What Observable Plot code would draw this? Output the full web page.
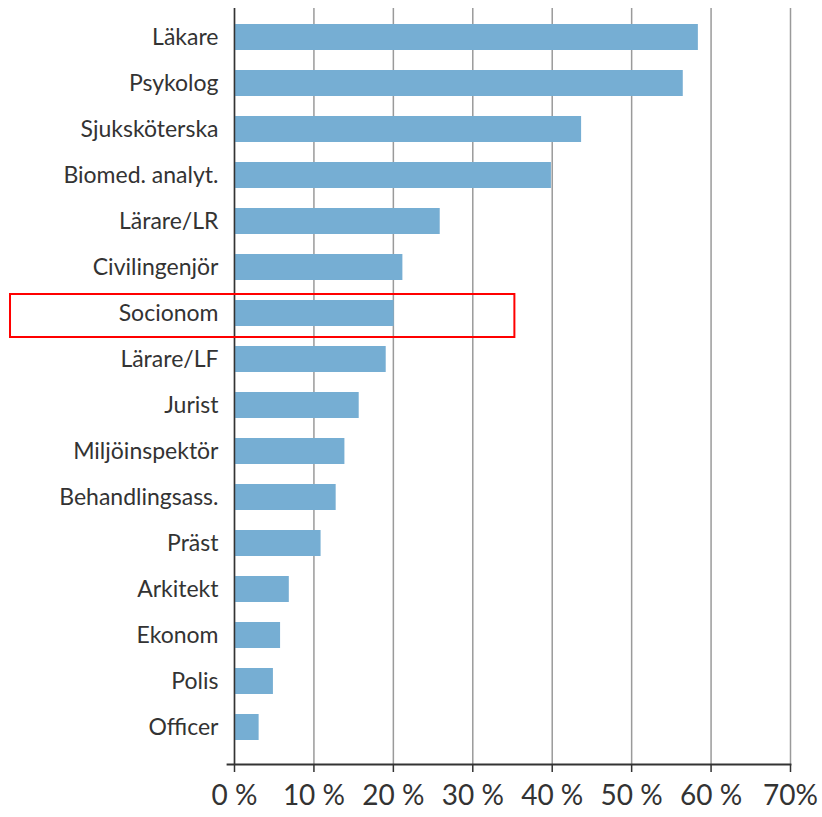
<!DOCTYPE html>
<html>
<head>
<meta charset="utf-8">
<script src="https://cdn.jsdelivr.net/npm/d3@7"></script>
<script src="https://cdn.jsdelivr.net/npm/@observablehq/plot@0.6"></script>
<style>
  html, body { margin: 0; padding: 0; background: #fff; }
  #chart svg { display: block; }
</style>
</head>
<body>
<div id="chart"></div>
<script>
const categories = ["Läkare", "Psykolog", "Sjuksköterska", "Biomed. analyt.", "Lärare/LR", "Civilingenjör", "Socionom", "Lärare/LF", "Jurist", "Miljöinspektör", "Behandlingsass.", "Präst", "Arkitekt", "Ekonom", "Polis", "Officer"];
const values = [58.4, 56.5, 43.7, 39.9, 25.9, 21.2, 20.1, 19.1, 15.7, 13.9, 12.8, 10.9, 6.9, 5.8, 4.9, 3.1];
const xTicks = [0, 10, 20, 30, 40, 50, 60, 70];
const xTickLabels = ["0 %", "10 %", "20 %", "30 %", "40 %", "50 %", "60 %", "70%"];
const highlightCategory = ["Socionom"];
const highlightFrom = [-28.2];
const highlightTo = [35.3];

const data = categories.map((c, i) => ({category: c, value: values[i]}));
const highlight = highlightCategory.map((c, i) => ({category: c, x1: highlightFrom[i], x2: highlightTo[i]}));

const chart = Plot.plot({
  width: 822,
  height: 817,
  marginLeft: 234,
  marginRight: 32,
  marginTop: 8,
  marginBottom: 53,
  style: {fontFamily: "Lato, 'Open Sans', sans-serif", background: "#fff"},
  x: {domain: [0, 70]},
  y: {domain: categories, paddingInner: 0.44, paddingOuter: 0.349, align: 0.4},
  marks: [
    Plot.gridX(xTicks, {stroke: "#9a9a9a", strokeOpacity: 1, strokeWidth: 1.5}),
    Plot.barX(data, {x: "value", y: "category", fill: "#76aed3"}),
    Plot.ruleX([0], {stroke: "#333", strokeWidth: 1.5}),
    Plot.frame({anchor: "bottom", stroke: "#333", strokeWidth: 1.8, insetLeft: -7}),
    Plot.axisX(xTicks, {
      tickSize: 8, tickPadding: 13, fontSize: 28, stroke: "#333", fill: "#333", strokeWidth: 1.5,
      tickFormat: d => xTickLabels[xTicks.indexOf(d)], label: null
    }),
    Plot.axisY({tickSize: 0, tickPadding: 16, fontSize: 23, fill: "#333", label: null}),
    Plot.barX(highlight, {
      x1: "x1", x2: "x2", y: "category", fill: "none", stroke: "#ff0000", strokeWidth: 2,
      insetTop: -6, insetBottom: -11
    })
  ]
});
document.getElementById("chart").appendChild(chart);
</script>
</body>
</html>
